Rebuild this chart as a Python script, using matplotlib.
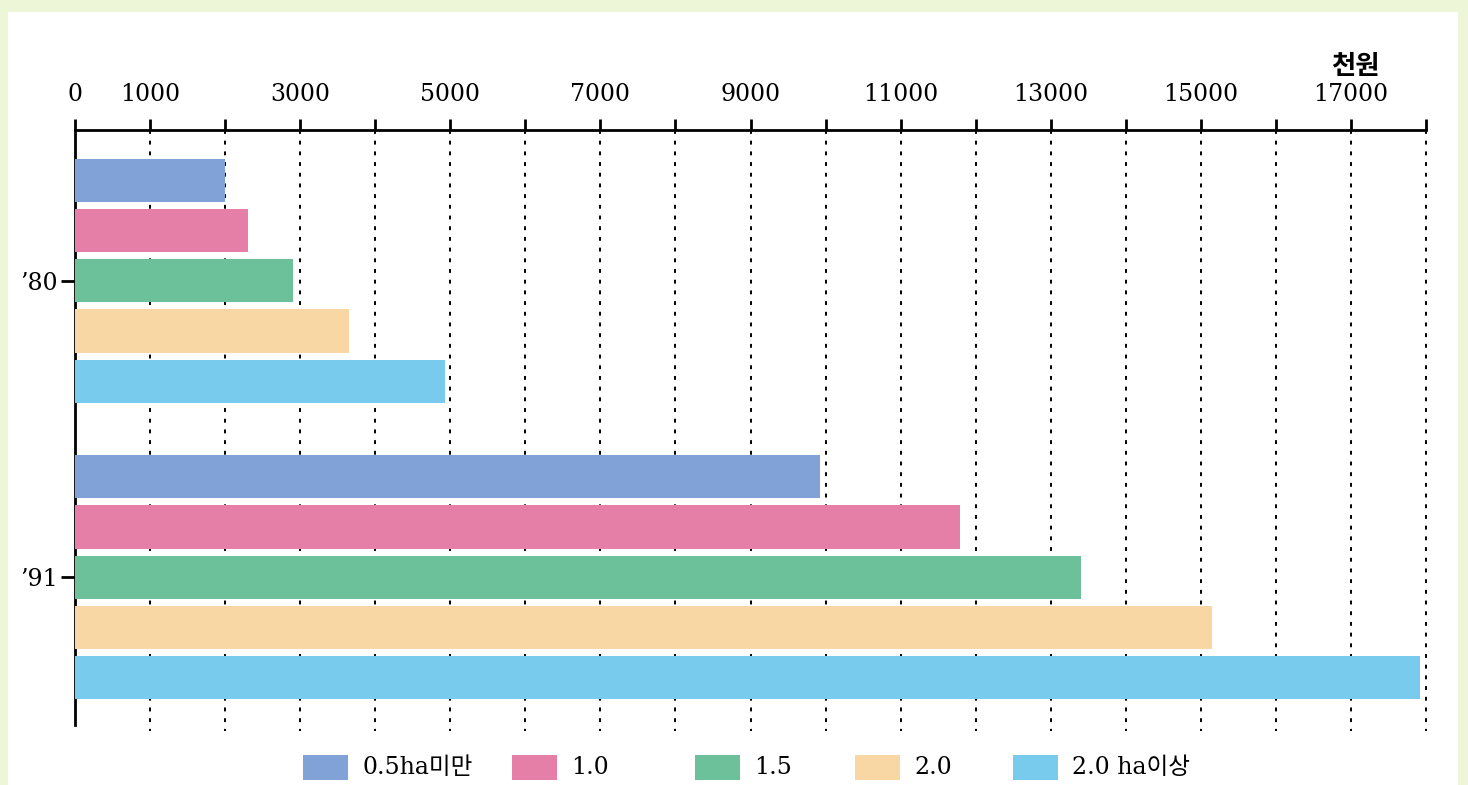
import matplotlib
matplotlib.use('Agg')
import matplotlib.pyplot as plt
from matplotlib.patches import Rectangle
import numpy as np

# data (천원)
years = ["\u201980", "\u201991"]
classes = ["0.5ha미만", "1.0", "1.5", "2.0", "2.0 ha이상"]
values_80 = [2000, 2300, 2900, 3650, 4930]
values_91 = [9930, 11790, 13400, 15150, 17920]
tick_vals = list(range(0, 18001, 1000))
tick_labels = ["0", "1000", "", "3000", "", "5000", "", "7000", "", "9000", "",
               "11000", "", "13000", "", "15000", "", "17000", ""]
colors = ["#80a2d6", "#e67fa8", "#6cc19a", "#f8d7a4", "#78cbec"]

W, H = 1468, 785
fig = plt.figure(figsize=(W / 100, H / 100), dpi=100)
fig.patch.set_facecolor("#eef6d8")
fig.add_artist(Rectangle((8 / W, 0), 1450 / W, 1 - 12 / H, transform=fig.transFigure,
                         facecolor="white", edgecolor="none", zorder=0))

ax = fig.add_axes([75 / W, 1 - 725 / H, (1426 - 75) / W, (725 - 130) / H])
ax.set_facecolor("none")

serif = ["DejaVu Serif", "Noto Sans CJK KR"]
group_pos = [0.0, 5.9]
offsets = np.arange(-2, 3)
for gi, vals in enumerate([values_80, values_91]):
    ax.barh(group_pos[gi] + offsets, vals, height=0.86, color=colors, zorder=3)

ax.set_xlim(0, 18000)
ax.set_ylim(8.84, -3.0)

ax.xaxis.tick_top()
ax.set_xticks(tick_vals)
ax.set_xticklabels(tick_labels, fontsize=17, family=serif)
ax.tick_params(axis="x", direction="out", length=8, width=2, pad=9, top=True, bottom=False)
ax.set_yticks(group_pos)
ax.set_yticklabels(years, fontsize=17, family=serif)
ax.tick_params(axis="y", direction="out", length=10, width=2, pad=2)

for s in ["bottom", "right"]:
    ax.spines[s].set_visible(False)
for s in ["top", "left"]:
    ax.spines[s].set_linewidth(2)

ax.vlines(tick_vals[1:], -3.0, 8.95, colors="black", linestyles=(0, (2, 3.5)),
          linewidth=1.4, zorder=1, clip_on=False)

fig.text(1355 / W, 1 - 66 / H, "천원", ha="center", va="center", fontsize=19,
         fontweight="bold", family=["Noto Sans CJK KR"])

# legend
leg_x = [303, 512, 695, 855, 1013]
for i, lab in enumerate(classes):
    fig.add_artist(Rectangle((leg_x[i] / W, 1 - 780 / H), 45 / W, 25 / H,
                             transform=fig.transFigure, facecolor=colors[i], edgecolor="none"))
    fig.text((leg_x[i] + 59) / W, 1 - 768 / H, lab, ha="left", va="center",
             fontsize=17, family=serif)

fig.savefig("out.png", dpi=100, facecolor=fig.get_facecolor())
